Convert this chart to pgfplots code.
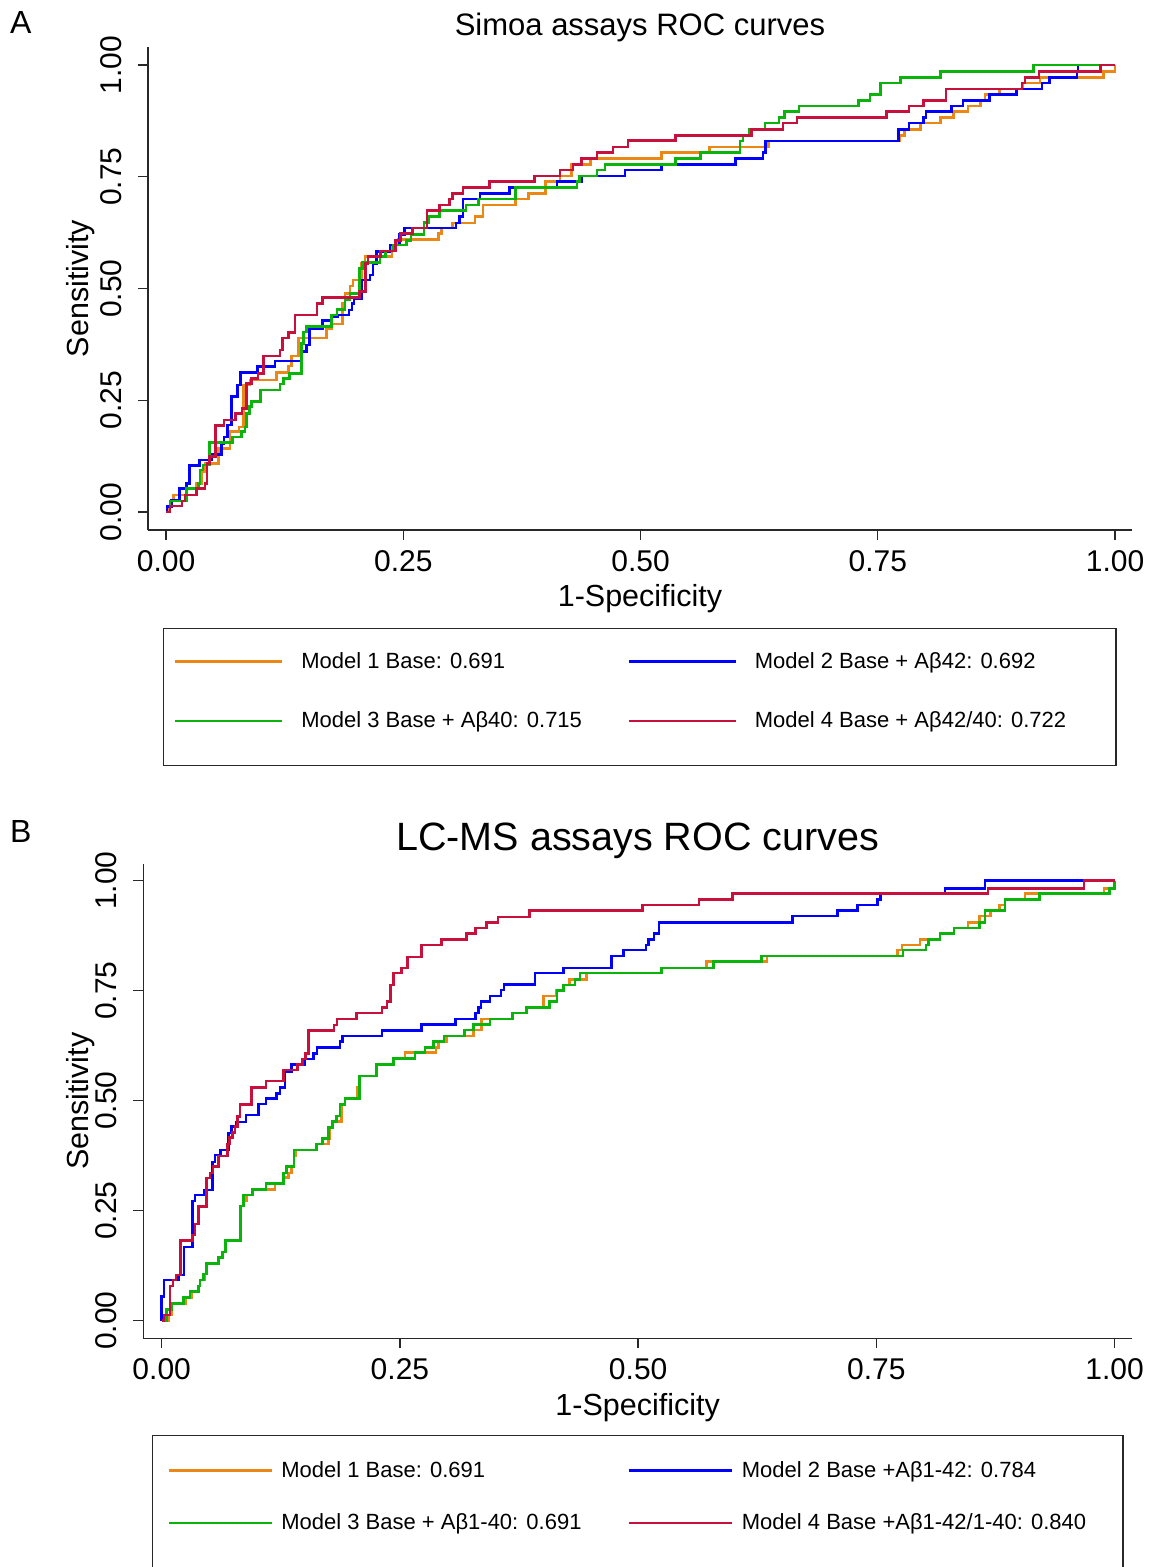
\documentclass[border=0pt]{standalone}
\usepackage{fontspec}
\setmainfont{Liberation Sans}
\usepackage{pgfplots}
\pgfplotsset{compat=1.18}
\definecolor{corange}{RGB}{235,135,20}
\definecolor{cblue}{RGB}{0,0,255}
\definecolor{cgreen}{RGB}{10,180,10}
\definecolor{cred}{RGB}{200,16,60}
\definecolor{axgray}{RGB}{40,40,40}
\pgfplotsset{
 roc/.style={
  scale only axis,
  axis x line*=bottom, axis y line*=left,
  axis line style={line width=1.4pt, axgray},
  tick style={line width=1.4pt, axgray},
  tick align=outside, major tick length=10pt,
  xtick={0,0.25,0.5,0.75,1}, ytick={0,0.25,0.5,0.75,1},
  /pgf/number format/fixed, /pgf/number format/fixed zerofill,
  /pgf/number format/precision=2, /pgf/number format/assume math mode=true,
  tick label style={font=\fontsize{30}{36}\selectfont, inner sep=0pt},
  yticklabel style={rotate=90, anchor=south},
  xticklabel style={anchor=north},
  xticklabel shift=10pt, yticklabel shift=16pt,
  every axis plot/.append style={line width=2.6pt, no markers},
  legend cell align=left,
 }
}
% legend entry: width, raise, height-above-baseline, text
\newcommand\lentry[4]{\makebox[#1][l]{\raisebox{#2}{\rule{0pt}{#3}#4}}}
\begin{document}
\begin{tikzpicture}
\path[use as bounding box] (0pt,0pt) rectangle (1151pt,-1567pt);
\node[anchor=base west, inner sep=0pt, font=\fontsize{32}{38}\selectfont] at (10pt,-33pt) {A};
\node[anchor=base west, inner sep=0pt, font=\fontsize{32}{38}\selectfont] at (10pt,-842pt) {B};
% ---------------- Panel A ----------------
\begin{axis}[roc,
  at={(148pt,-530pt)}, anchor=south west, width=984pt, height=483pt,
  xmin=-0.0190, xmax=1.0179, ymin=-0.0403, ymax=1.0403,
  title={Simoa assays ROC curves},
  every axis title/.style={at={(axis description cs:0.5,1.0248)}, anchor=base, inner sep=0pt, font=\fontsize{31}{37}\selectfont},
  xlabel={1-Specificity}, ylabel={Sensitivity},
  every axis x label/.style={at={(axis description cs:0.5,-0.1594)}, anchor=base, inner sep=0pt, font=\fontsize{30.5}{36}\selectfont},
  every axis y label/.style={at={(axis description cs:-0.0607,0.5)}, rotate=90, anchor=base, inner sep=0pt, font=\fontsize{30.5}{36}\selectfont},
  legend columns=2,
  legend image code/.code={\draw[#1] (0pt,0pt) -- (107pt,0pt);},
  legend style={at={(axis description cs:0.01524,-0.2029)}, anchor=north west,
    draw=axgray, line width=1.4pt, inner xsep=10pt, inner ysep=3pt, row sep=-12pt,
    nodes={inner sep=0pt}, font=\fontsize{22}{26}\selectfont,
    /tikz/column 1/.style={column sep=18pt},
    /tikz/column 2/.style={column sep=21pt},
    /tikz/column 3/.style={column sep=18pt}},
]
\addplot[const plot, corange] coordinates {(0,0) (0.003,0.013) (0.006,0.025) (0.008,0.038) (0.032,0.064) (0.0376,0.090) (0.041,0.109) (0.055,0.142) (0.0674,0.180) (0.077,0.190) (0.0815,0.284) (0.0885,0.295) (0.1166,0.312) (0.129,0.327) (0.1324,0.349) (0.1394,0.389) (0.169,0.411) (0.175,0.421) (0.186,0.467) (0.1886,0.489) (0.194,0.506) (0.197,0.519) (0.206,0.556) (0.2097,0.571) (0.238,0.597) (0.245,0.610) (0.287,0.623) (0.290,0.635) (0.302,0.647) (0.3256,0.661) (0.334,0.687) (0.368,0.700) (0.382,0.713) (0.400,0.739) (0.415,0.752) (0.427,0.778) (0.447,0.791) (0.522,0.804) (0.5725,0.817) (0.635,0.830) (0.773,0.842) (0.778,0.856) (0.795,0.870) (0.816,0.882) (0.830,0.896) (0.845,0.908) (0.858,0.921) (0.863,0.934) (0.878,0.946) (0.903,0.960) (0.921,0.972) (0.988,0.985) (1,1)};
\addlegendentry{\lentry{305pt}{21.5pt}{36.5pt}{Model 1 Base: 0.691}}
\addplot[const plot, cblue] coordinates {(0,0) (0.001,0.012) (0.0055,0.027) (0.014,0.053) (0.0218,0.064) (0.025,0.104) (0.035,0.116) (0.048,0.128) (0.0587,0.152) (0.061,0.168) (0.0646,0.195) (0.069,0.258) (0.075,0.284) (0.0787,0.312) (0.0962,0.325) (0.1149,0.338) (0.143,0.359) (0.148,0.374) (0.151,0.411) (0.165,0.428) (0.1746,0.436) (0.1805,0.441) (0.193,0.452) (0.196,0.467) (0.198,0.478) (0.206,0.519) (0.215,0.530) (0.218,0.556) (0.222,0.583) (0.236,0.597) (0.246,0.621) (0.2515,0.635) (0.3056,0.647) (0.309,0.661) (0.313,0.700) (0.331,0.713) (0.362,0.726) (0.412,0.739) (0.438,0.752) (0.4837,0.765) (0.522,0.778) (0.600,0.791) (0.629,0.804) (0.632,0.830) (0.772,0.856) (0.783,0.870) (0.798,0.882) (0.801,0.896) (0.828,0.908) (0.840,0.921) (0.868,0.934) (0.896,0.946) (0.923,0.960) (0.931,0.972) (0.960,0.985) (0.961,1.0) (1,1)};
\addlegendentry{\lentry{351pt}{21.5pt}{36.5pt}{Model 2 Base + Aβ42: 0.692}}
\addplot[const plot, cgreen] coordinates {(0,0) (0.004,0.025) (0.0218,0.053) (0.034,0.064) (0.0358,0.094) (0.039,0.105) (0.046,0.155) (0.0703,0.168) (0.0797,0.180) (0.0832,0.190) (0.085,0.221) (0.0878,0.236) (0.090,0.247) (0.0998,0.273) (0.120,0.286) (0.1236,0.299) (0.130,0.310) (0.143,0.377) (0.145,0.403) (0.148,0.415) (0.1746,0.441) (0.180,0.453) (0.1886,0.474) (0.194,0.489) (0.2037,0.545) (0.207,0.558) (0.2255,0.571) (0.231,0.584) (0.2395,0.597) (0.2536,0.608) (0.258,0.621) (0.272,0.648) (0.277,0.661) (0.288,0.674) (0.316,0.687) (0.329,0.700) (0.368,0.726) (0.433,0.739) (0.436,0.752) (0.454,0.765) (0.4625,0.778) (0.537,0.791) (0.563,0.804) (0.605,0.830) (0.608,0.843) (0.615,0.856) (0.631,0.870) (0.646,0.882) (0.652,0.896) (0.667,0.908) (0.7296,0.921) (0.742,0.934) (0.753,0.960) (0.774,0.972) (0.816,0.985) (0.914,1.0) (1,1)};
\addlegendentry{\lentry{305pt}{33.5pt}{48.5pt}{Model 3 Base + Aβ40: 0.715}}
\addplot[const plot, cred] coordinates {(0,0) (0.004,0.013) (0.017,0.025) (0.020,0.038) (0.032,0.053) (0.041,0.064) (0.043,0.109) (0.046,0.124) (0.052,0.193) (0.061,0.206) (0.073,0.221) (0.080,0.232) (0.085,0.288) (0.090,0.299) (0.097,0.310) (0.103,0.349) (0.120,0.362) (0.123,0.389) (0.129,0.401) (0.136,0.441) (0.159,0.467) (0.165,0.480) (0.204,0.493) (0.210,0.556) (0.213,0.571) (0.226,0.584) (0.242,0.608) (0.247,0.623) (0.260,0.635) (0.275,0.674) (0.288,0.687) (0.299,0.700) (0.302,0.713) (0.313,0.726) (0.341,0.739) (0.388,0.752) (0.415,0.765) (0.429,0.778) (0.438,0.791) (0.454,0.804) (0.471,0.817) (0.487,0.831) (0.537,0.842) (0.617,0.856) (0.650,0.870) (0.665,0.882) (0.759,0.896) (0.783,0.908) (0.798,0.921) (0.822,0.946) (0.902,0.960) (0.905,0.972) (0.920,0.985) (0.985,1.0) (1,1)};
\addlegendentry{\lentry{351pt}{33.5pt}{48.5pt}{Model 4 Base + Aβ42/40: 0.722}}
\end{axis}
% ---------------- Panel B ----------------
\begin{axis}[roc,
  at={(143.3pt,-1338.3pt)}, anchor=south west, width=988.7pt, height=474.3pt,
  xmin=-0.0193, xmax=1.0182, ymin=-0.040, ymax=1.038,
  title={LC-MS assays ROC curves},
  every axis title/.style={at={(axis description cs:0.5,1.0295)}, anchor=base, inner sep=0pt, font=\fontsize{39.5}{46}\selectfont},
  xlabel={1-Specificity}, ylabel={Sensitivity},
  every axis x label/.style={at={(axis description cs:0.5,-0.1617)}, anchor=base, inner sep=0pt, font=\fontsize{30.5}{36}\selectfont},
  every axis y label/.style={at={(axis description cs:-0.0559,0.5)}, rotate=90, anchor=base, inner sep=0pt, font=\fontsize{30.5}{36}\selectfont},
  legend columns=2,
  legend image code/.code={\draw[#1] (0pt,0pt) -- (103pt,0pt);},
  legend style={at={(axis description cs:0.0088,-0.2039)}, anchor=north west,
    draw=axgray, line width=1.4pt, inner xsep=15pt, inner ysep=3pt, row sep=-40pt,
    nodes={inner sep=0pt}, font=\fontsize{22}{26}\selectfont,
    /tikz/column 1/.style={column sep=8pt},
    /tikz/column 2/.style={column sep=16pt},
    /tikz/column 3/.style={column sep=9pt}},
]
\addplot[const plot, corange] coordinates {(0,0) (0.007,0.013) (0.010,0.026) (0.0105,0.0395) (0.025,0.0524) (0.031,0.066) (0.038,0.079) (0.040,0.0925) (0.045,0.106) (0.047,0.130) (0.0594,0.1435) (0.064,0.156) (0.067,0.183) (0.0829,0.2607) (0.0857,0.273) (0.089,0.286) (0.0955,0.298) (0.119,0.312) (0.1276,0.325) (0.133,0.336) (0.136,0.350) (0.1388,0.374) (0.141,0.388) (0.1626,0.402) (0.1748,0.4145) (0.176,0.4395) (0.1794,0.453) (0.1886,0.465) (0.189,0.492) (0.1924,0.505) (0.205,0.530) (0.2074,0.556) (0.2256,0.583) (0.2431,0.5955) (0.2553,0.6095) (0.2877,0.621) (0.2904,0.634) (0.299,0.647) (0.327,0.661) (0.3357,0.686) (0.3683,0.699) (0.383,0.712) (0.4004,0.738) (0.4145,0.750) (0.4214,0.763) (0.4277,0.776) (0.446,0.790) (0.5247,0.802) (0.572,0.816) (0.635,0.829) (0.772,0.8425) (0.777,0.854) (0.7957,0.867) (0.8167,0.880) (0.8314,0.893) (0.846,0.9055) (0.858,0.920) (0.870,0.932) (0.879,0.945) (0.885,0.958) (0.906,0.9705) (0.989,0.983) (1,1)};
\addlegendentry{\lentry{330pt}{23.5pt}{38.5pt}{Model 1 Base: 0.691}}
\addplot[const plot, cblue] coordinates {(0,0) (0,0.055) (0.0024,0.0925) (0.0175,0.104) (0.0234,0.168) (0.0325,0.272) (0.035,0.286) (0.0444,0.297) (0.0535,0.361) (0.056,0.377) (0.0619,0.388) (0.070,0.427) (0.0734,0.441) (0.0787,0.452) (0.0885,0.4675) (0.1014,0.4925) (0.1094,0.505) (0.1207,0.517) (0.124,0.530) (0.1294,0.566) (0.1364,0.583) (0.150,0.595) (0.159,0.608) (0.163,0.621) (0.187,0.634) (0.190,0.647) (0.231,0.659) (0.2728,0.6736) (0.3085,0.686) (0.3295,0.699) (0.3323,0.712) (0.335,0.725) (0.3445,0.738) (0.356,0.7516) (0.359,0.7645) (0.3917,0.790) (0.4214,0.802) (0.472,0.829) (0.4845,0.8425) (0.508,0.854) (0.5107,0.867) (0.5166,0.880) (0.522,0.9055) (0.662,0.920) (0.709,0.932) (0.730,0.945) (0.751,0.958) (0.754,0.9705) (0.822,0.983) (0.864,1.0) (1,1)};
\addlegendentry{\lentry{366pt}{23.5pt}{38.5pt}{Model 2 Base +Aβ1-42: 0.784}}
\addplot[const plot, cgreen] coordinates {(0,0) (0.005,0.026) (0.0105,0.0395) (0.0227,0.0524) (0.0297,0.066) (0.0385,0.079) (0.040,0.0925) (0.0437,0.106) (0.047,0.130) (0.0594,0.1435) (0.064,0.156) (0.067,0.183) (0.0829,0.2607) (0.0857,0.286) (0.0955,0.298) (0.1094,0.312) (0.1276,0.336) (0.131,0.350) (0.1388,0.388) (0.1626,0.402) (0.169,0.4145) (0.1748,0.4395) (0.1794,0.453) (0.1836,0.465) (0.187,0.492) (0.1924,0.505) (0.2074,0.556) (0.2256,0.583) (0.2431,0.5955) (0.2658,0.6095) (0.2763,0.621) (0.285,0.634) (0.2962,0.647) (0.3175,0.661) (0.327,0.6736) (0.3445,0.686) (0.3683,0.699) (0.383,0.712) (0.4067,0.725) (0.415,0.750) (0.4214,0.763) (0.4337,0.776) (0.439,0.790) (0.5247,0.802) (0.579,0.816) (0.6296,0.829) (0.778,0.8425) (0.802,0.854) (0.8045,0.867) (0.8167,0.880) (0.8314,0.893) (0.858,0.9055) (0.864,0.932) (0.885,0.958) (0.921,0.9705) (0.9944,0.983) (1,1)};
\addlegendentry{\lentry{330pt}{52.5pt}{67.5pt}{Model 3 Base + Aβ1-40: 0.691}}
\addplot[const plot, cred] coordinates {(0,0) (0.0024,0.013) (0.0087,0.079) (0.012,0.0925) (0.015,0.104) (0.020,0.183) (0.0325,0.195) (0.035,0.220) (0.0385,0.259) (0.047,0.324) (0.0507,0.336) (0.054,0.350) (0.0594,0.374) (0.0689,0.402) (0.071,0.416) (0.0745,0.428) (0.077,0.441) (0.0794,0.464) (0.082,0.492) (0.0944,0.530) (0.1094,0.545) (0.1276,0.570) (0.1423,0.582) (0.148,0.595) (0.151,0.608) (0.154,0.659) (0.181,0.672) (0.184,0.686) (0.2046,0.699) (0.231,0.712) (0.2366,0.725) (0.2403,0.763) (0.2431,0.790) (0.2518,0.802) (0.2577,0.827) (0.2728,0.854) (0.2938,0.867) (0.320,0.880) (0.3295,0.893) (0.341,0.905) (0.353,0.918) (0.3857,0.932) (0.5047,0.945) (0.564,0.958) (0.599,0.9705) (0.867,0.983) (0.968,1.0) (1,1)};
\addlegendentry{\lentry{366pt}{52.5pt}{67.5pt}{Model 4 Base +Aβ1-42/1-40: 0.840}}
\end{axis}
\end{tikzpicture}
\end{document}
